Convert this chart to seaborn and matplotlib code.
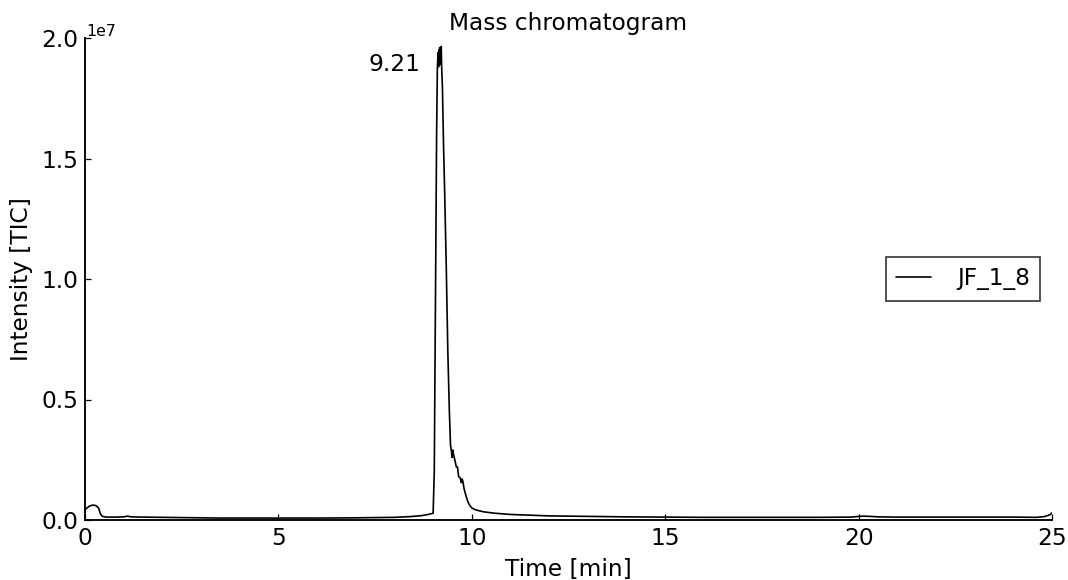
import matplotlib
matplotlib.use("Agg")
import matplotlib.pyplot as plt
import matplotlib.transforms as mtransforms
import seaborn as sns
import pandas as pd

# Data
time_min = [0.00, 0.05, 0.12, 0.20, 0.28, 0.35, 0.40, 0.45, 0.55, 0.80, 1.00, 1.10, 1.20, 1.50,
            2.00, 2.50, 3.00, 3.50, 4.00, 5.00, 6.00, 7.00, 7.50, 8.00, 8.40, 8.70, 8.90,
            9.00, 9.03, 9.06, 9.09, 9.11, 9.13, 9.14, 9.15, 9.16, 9.17, 9.18, 9.19, 9.20,
            9.21, 9.22, 9.24, 9.27, 9.30, 9.34, 9.38, 9.42, 9.45, 9.47, 9.49, 9.51, 9.53,
            9.56, 9.60, 9.63, 9.66, 9.70, 9.73, 9.75, 9.77, 9.80, 9.85, 9.90, 9.95, 10.00,
            10.10, 10.30, 10.60, 11.00, 11.50, 12.00, 13.00, 14.00, 15.00, 16.00, 17.00,
            18.00, 19.00, 19.80, 20.10, 20.30, 20.50, 21.00, 22.00, 23.00, 24.00, 24.60,
            24.80, 24.95, 25.00]
intensity = [0.42e6, 0.50e6, 0.58e6, 0.62e6, 0.60e6, 0.50e6, 0.25e6, 0.15e6, 0.12e6, 0.12e6,
             0.13e6, 0.16e6, 0.13e6, 0.12e6, 0.11e6, 0.10e6, 0.09e6, 0.08e6, 0.08e6, 0.08e6,
             0.08e6, 0.09e6, 0.10e6, 0.11e6, 0.14e6, 0.18e6, 0.24e6, 0.28e6, 2.0e6, 9.0e6,
             16.0e6, 18.8e6, 19.4e6, 18.8e6, 19.5e6, 18.9e6, 19.6e6, 18.9e6, 19.5e6, 19.0e6,
             19.65e6, 18.8e6, 18.0e6, 15.5e6, 13.5e6, 10.5e6, 7.0e6, 4.5e6, 3.1e6, 2.9e6,
             2.6e6, 2.9e6, 2.7e6, 2.5e6, 2.2e6, 2.2e6, 1.8e6, 1.75e6, 1.55e6, 1.7e6, 1.6e6,
             1.3e6, 1.0e6, 0.75e6, 0.6e6, 0.5e6, 0.42e6, 0.34e6, 0.28e6, 0.23e6, 0.2e6,
             0.17e6, 0.15e6, 0.13e6, 0.12e6, 0.11e6, 0.11e6, 0.11e6, 0.11e6, 0.12e6,
             0.16e6, 0.15e6, 0.13e6, 0.12e6, 0.12e6, 0.12e6, 0.12e6, 0.11e6, 0.14e6,
             0.22e6, 0.30e6]
peak_time = 9.21
peak_label = "9.21"
series_name = "JF_1_8"

df = pd.DataFrame({"Time [min]": time_min, "Intensity [TIC]": intensity})

sns.set_style("ticks")
FS = 11.2
plt.rcParams["font.family"] = ["DejaVu Sans"]
plt.rcParams["font.size"] = FS
plt.rcParams["text.color"] = "black"
plt.rcParams["axes.labelcolor"] = "black"

fig = plt.figure(figsize=(1068 / 150, 580 / 150), dpi=150)
ax = fig.add_axes([85 / 1068, 1 - 520 / 580, (1052 - 85) / 1068, (520 - 38) / 580])

sns.lineplot(data=df, x="Time [min]", y="Intensity [TIC]", ax=ax, color="black",
             linewidth=0.8, label=series_name)

ax.set_xlim(0, 25)
ax.set_ylim(0, 2.0e7)
ax.set_xticks([0, 5, 10, 15, 20, 25])
ax.set_yticks([0, 0.5e7, 1.0e7, 1.5e7, 2.0e7])
ax.ticklabel_format(axis="y", style="sci", scilimits=(0, 0))
ot = ax.yaxis.get_offset_text()
ot.set_fontsize(7.5)
ot.set_transform(ot.get_transform() + mtransforms.ScaledTranslation(1 / 150, -4 / 150, fig.dpi_scale_trans))
ax.tick_params(direction="in", length=2.8, width=0.6, labelsize=FS, colors="black", pad=3.2)
for s in ["top", "right"]:
    ax.spines[s].set_visible(False)
for s in ["left", "bottom"]:
    ax.spines[s].set_color("black")
    ax.spines[s].set_linewidth(0.9)
ax.set_xlabel("Time [min]", fontsize=FS, labelpad=4)
ax.set_ylabel("Intensity [TIC]", fontsize=FS, labelpad=4)
ax.set_title("Mass chromatogram", fontsize=FS, pad=4, color="black")

ax.annotate(peak_label, xy=(peak_time, 1.96e7), xytext=(-10, -8), textcoords="offset points",
            ha="right", va="center", fontsize=FS, color="black")

leg = ax.legend(loc="center right", frameon=True, fancybox=False, edgecolor="black",
                fontsize=FS, handlelength=1.5, handletextpad=1.1, borderpad=0.45,
                borderaxespad=0.5)
leg.get_frame().set_linewidth(0.8)
for t in leg.get_texts():
    t.set_color("black")

fig.savefig("out.png", dpi=150)
